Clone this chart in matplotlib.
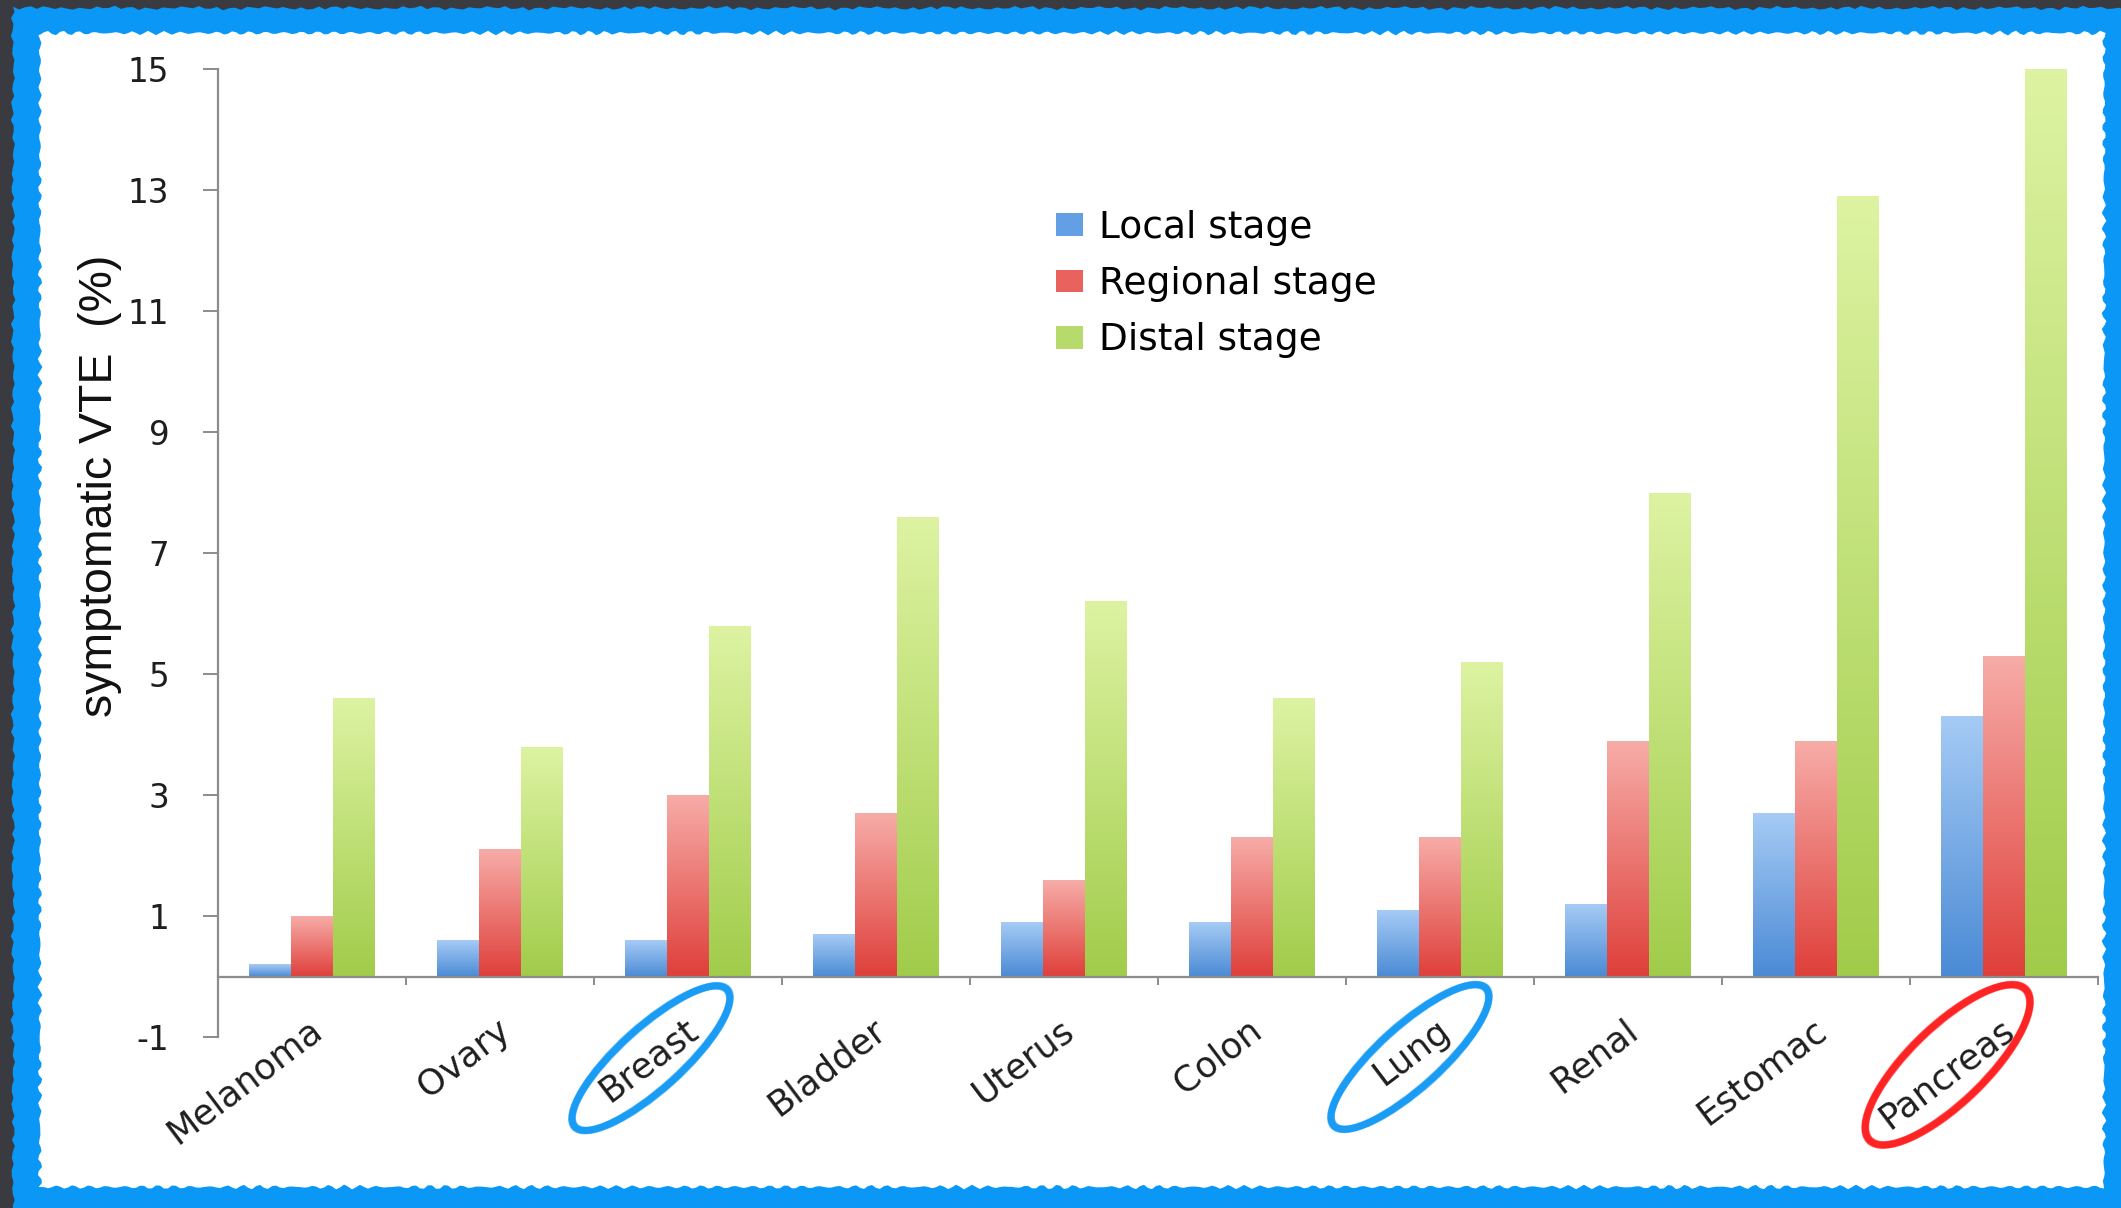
import numpy as np
import matplotlib
matplotlib.use("Agg")
import matplotlib.pyplot as plt
from matplotlib.patches import Ellipse, Polygon
from matplotlib.colors import LinearSegmentedColormap
from matplotlib.transforms import ScaledTranslation, IdentityTransform

plt.rcParams["axes.unicode_minus"] = False

# ---- data -------------------------------------------------------------
categories = ["Melanoma", "Ovary", "Breast", "Bladder", "Uterus",
              "Colon", "Lung", "Renal", "Estomac", "Pancreas"]
series_names = ["Local stage", "Regional stage", "Distal stage"]
local_stage = [0.2, 0.6, 0.6, 0.7, 0.9, 0.9, 1.1, 1.2, 2.7, 4.3]
regional_stage = [1.0, 2.1, 3.0, 2.7, 1.6, 2.3, 2.3, 3.9, 3.9, 5.3]
distal_stage = [4.6, 3.8, 5.8, 7.6, 6.2, 4.6, 5.2, 8.0, 12.9, 15.0]
y_ticks = [-1, 1, 3, 5, 7, 9, 11, 13, 15]
y_label = "symptomatic VTE  (%)"
circled_blue = ["Breast", "Lung"]
circled_red = ["Pancreas"]

# ---- figure geometry (pixels) -------------------------------------------
W, H, DPI = 2121, 1208, 100
fig = plt.figure(figsize=(W / DPI, H / DPI), dpi=DPI)
fig.patch.set_facecolor("#393b40")


def fpt(px, py):
    """pixel position (top-left origin) -> figure fraction"""
    return px / W, 1 - py / H


def rough_rect(x0, y0, x1, y1, amp, step=6):
    """rectangle outline with a chalky, wobbly edge (pixel coords)"""
    pts = []
    def wob(t, k):
        return amp * (0.55 * np.sin(t * 0.37 + k) + 0.3 * np.sin(t * 1.13 + 2 * k)
                      + 0.15 * np.sin(t * 2.71 + 3 * k))
    for t in np.arange(x0, x1, step):
        pts.append((t, y0 + wob(t, 0.3)))
    for t in np.arange(y0, y1, step):
        pts.append((x1 + wob(t, 1.7), t))
    for t in np.arange(x1, x0, -step):
        pts.append((t, y1 + wob(t, 2.9)))
    for t in np.arange(y1, y0, -step):
        pts.append((x0 + wob(t, 4.1), t))
    return [fpt(px, py) for px, py in pts]


# chalk-blue frame and white board
fig.add_artist(Polygon(rough_rect(13, 8, W + 10, H + 10, 2.5),
                       transform=fig.transFigure, facecolor="#0a97f6",
                       edgecolor="none", zorder=-20))
fig.add_artist(Polygon(rough_rect(40, 33, 2104, 1187, 2.5, step=4),
                       transform=fig.transFigure, facecolor="white",
                       edgecolor="none", zorder=-19))

ax_left, ax_top, ax_right, ax_bottom = 218, 69, 2098, 1037
ax = fig.add_axes([ax_left / W, 1 - ax_bottom / H,
                   (ax_right - ax_left) / W, (ax_bottom - ax_top) / H])
ax.patch.set_visible(False)

# ---- bars with vertical gradients ---------------------------------------
x = np.arange(len(categories))
bw = 0.222
values = [local_stage, regional_stage, distal_stage]
mid_colors = ["#629fe4", "#e9625d", "#b6da6b"]
grad_colors = [("#4a8ad5", "#a6cbf5"),
               ("#df3f3a", "#f7aca8"),
               ("#a1cc4a", "#ddf3a2")]
gradient = np.linspace(0, 1, 256).reshape(-1, 1)

for k, (vals, name) in enumerate(zip(values, series_names)):
    bars = ax.bar(x + (k - 1) * bw, vals, width=bw, color=mid_colors[k],
                  edgecolor="none", label=name, zorder=2)
    cmap = LinearSegmentedColormap.from_list(name, grad_colors[k])
    for b in bars:
        x0, bh = b.get_x(), b.get_height()
        im = ax.imshow(gradient, extent=(x0, x0 + b.get_width(), 0, bh),
                       origin="lower", cmap=cmap, aspect="auto",
                       interpolation="bicubic", zorder=3)
        im.set_clip_path(b)

ax.set_xlim(-0.5, len(categories) - 0.5)
ax.set_ylim(y_ticks[0], y_ticks[-1])

# ---- axes styling -------------------------------------------------------
axis_grey = "#8c8c8c"
for side in ("top", "right"):
    ax.spines[side].set_visible(False)
ax.spines["left"].set_color(axis_grey)
ax.spines["left"].set_linewidth(1.6)
ax.spines["bottom"].set_position(("data", 0))
ax.spines["bottom"].set_color(axis_grey)
ax.spines["bottom"].set_linewidth(1.6)
ax.spines["bottom"].set_zorder(4)

ax.set_yticks(y_ticks)
ax.tick_params(axis="y", direction="out", length=11, width=1.4,
               color=axis_grey, pad=24, labelsize=23.5, labelcolor="#1e1e1e")

ax.set_xticks(x)
ax.set_xticks(np.arange(len(categories)) + 0.5, minor=True)
ax.tick_params(axis="x", which="major", length=0, pad=26)
ax.tick_params(axis="x", which="minor", direction="out", length=6,
               width=1.4, color=axis_grey)
ax.set_xticklabels(categories, rotation=37, ha="right", va="top",
                   rotation_mode="anchor", fontsize=25.5, color="#1e1e1e")
shift = ScaledTranslation(-4 / DPI, 0, fig.dpi_scale_trans)
for lab in ax.get_xticklabels():
    lab.set_transform(lab.get_transform() + shift)

ax.set_ylabel(y_label, fontsize=33.5, family="Liberation Sans",
              color="#111111", va="center")
ax.yaxis.set_label_coords((100 - ax_left) / (ax_right - ax_left),
                          (ax_bottom - 486) / (ax_bottom - ax_top))

# ---- legend -------------------------------------------------------------
ax.legend(loc="upper left", frameon=False, fontsize=27,
          bbox_to_anchor=fpt(1056, 210),
          bbox_transform=fig.transFigure, borderpad=0, borderaxespad=0,
          handlelength=0.72, handleheight=0.55, handletextpad=0.42,
          labelspacing=0.54)

# ---- chalk circles around highlighted labels -----------------------------
fig.canvas.draw()
circle_style = {
    "Breast": (-0.197, -1.35, 205, 62, 42, "#1b9cf4"),
    "Lung": (-0.16, -1.33, 205, 62, 42, "#1b9cf4"),
    "Pancreas": (-0.30, -1.46, 217, 76, 44, "#ff2424"),
}
for name in circled_blue + circled_red:
    dx, yd, ew, eh, ang, col = circle_style[name]
    i = categories.index(name)
    cx, cy = ax.transData.transform((i + dx, yd))
    for grow, lw, a in ((0, 5.0, 1.0), (6, 1.8, 0.55), (-6, 1.8, 0.55)):
        ax.add_patch(Ellipse((cx, cy), ew + grow, eh + grow, angle=ang,
                             transform=IdentityTransform(), fill=False,
                             edgecolor=col, linewidth=lw, alpha=a,
                             clip_on=False, zorder=6))

fig.savefig("out.png", dpi=DPI, facecolor=fig.get_facecolor())
